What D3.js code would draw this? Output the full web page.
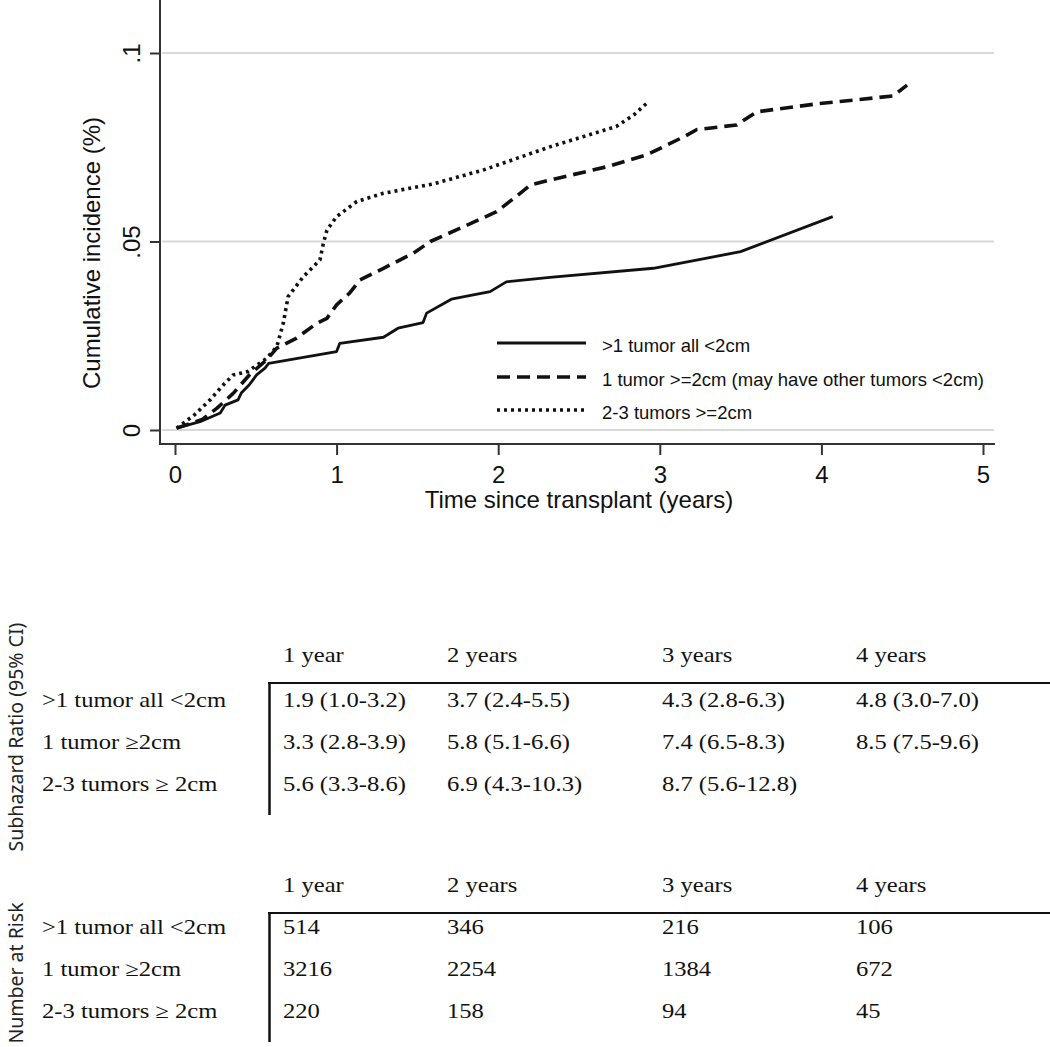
<!DOCTYPE html>
<html><head><meta charset="utf-8">
<script src="https://cdn.jsdelivr.net/npm/d3@7"></script>
<style>body{margin:0;background:#fff}</style>
</head><body>
<svg id="c" width="1050" height="1047"></svg>
<script>
// ---------- data ----------
const seriesNames = [">1 tumor all <2cm", "1 tumor >=2cm (may have other tumors <2cm)", "2-3 tumors >=2cm"];

const timeSolid = [0.01,0.155,0.28,0.31,0.39,0.41,0.46,0.505,0.557,0.58,1.0,1.02,1.29,1.38,1.535,1.557,1.71,1.95,2.05,2.32,2.96,3.5,4.07];
const valSolid  = [0.0005,0.0022,0.0045,0.0066,0.008,0.0098,0.012,0.0146,0.0164,0.0177,0.0208,0.023,0.0246,0.027,0.0285,0.031,0.0347,0.0367,0.0393,0.0405,0.0429,0.0473,0.0566];

const timeDash = [0.01,0.165,0.26,0.36,0.46,0.567,0.63,0.75,0.877,0.94,1.0,1.08,1.145,1.29,1.475,1.58,1.785,1.99,2.11,2.2,2.32,2.67,2.92,3.15,3.23,3.475,3.6,3.97,4.445,4.53];
const valDash  = [0.0005,0.0027,0.0058,0.0097,0.0146,0.0186,0.0217,0.0243,0.0283,0.0296,0.0332,0.0363,0.0398,0.0429,0.0469,0.05,0.0539,0.0579,0.0619,0.065,0.0663,0.0698,0.073,0.0778,0.0797,0.0809,0.0844,0.0865,0.0886,0.0915];

const timeDot = [0.01,0.12,0.217,0.3,0.36,0.45,0.567,0.63,0.67,0.70,0.795,0.897,0.918,0.94,1.0,1.125,1.29,1.6,1.91,2.32,2.73,2.84,2.93];
const valDot  = [0.0005,0.004,0.008,0.012,0.0146,0.0155,0.019,0.0221,0.0283,0.0354,0.0407,0.0451,0.0495,0.053,0.0566,0.0606,0.0628,0.0653,0.069,0.0751,0.0805,0.0836,0.0871];

const xTicks = [0,1,2,3,4,5];
const yTicks = [0,0.05,0.1];
const yTickLabels = ["0",".05",".1"];

const tableCols = ["1 year","2 years","3 years","4 years"];
const tableRows = [">1 tumor all <2cm","1 tumor \u22652cm","2-3 tumors \u2265 2cm"];
const shrRow1 = ["1.9 (1.0-3.2)","3.7 (2.4-5.5)","4.3 (2.8-6.3)","4.8 (3.0-7.0)"];
const shrRow2 = ["3.3 (2.8-3.9)","5.8 (5.1-6.6)","7.4 (6.5-8.3)","8.5 (7.5-9.6)"];
const shrRow3 = ["5.6 (3.3-8.6)","6.9 (4.3-10.3)","8.7 (5.6-12.8)",""];
const riskRow1 = [514,346,216,106];
const riskRow2 = [3216,2254,1384,672];
const riskRow3 = [220,158,94,45];

// ---------- chart ----------
const svg = d3.select("#c");
const sans = "'Liberation Sans', Arial, Helvetica, sans-serif";
const serif = "'Liberation Serif', 'Times New Roman', serif";
const ink = "#111", axisCol = "#333", gridCol = "#d9d9d9";

const x = d3.scaleLinear().domain([0,5]).range([175,983]);
const y = d3.scaleLinear().domain([0,0.1]).range([430,53]);

// gridlines
svg.append("g").selectAll("line").data(yTicks).join("line")
  .attr("x1",162).attr("x2",994)
  .attr("y1",d=>y(d)).attr("y2",d=>y(d))
  .attr("stroke",gridCol).attr("stroke-width",2);

// axis lines
svg.append("line").attr("x1",160).attr("x2",160).attr("y1",0).attr("y2",444)
  .attr("stroke",axisCol).attr("stroke-width",2);
svg.append("line").attr("x1",159).attr("x2",995).attr("y1",444).attr("y2",444)
  .attr("stroke",axisCol).attr("stroke-width",2);

// x axis
const gx = svg.append("g").attr("transform","translate(0,444)")
  .call(d3.axisBottom(x).tickValues(xTicks).tickFormat(d3.format("d")).tickSize(11));
gx.select(".domain").remove();
gx.selectAll(".tick line").attr("stroke",axisCol).attr("stroke-width",2);
gx.selectAll(".tick text").attr("y",39).attr("dy",null)
  .attr("font-family",sans).attr("font-size",24).attr("fill",ink);

// y axis
const gy = svg.append("g").attr("transform","translate(160,0)")
  .call(d3.axisLeft(y).tickValues(yTicks).tickFormat((d,i)=>yTickLabels[i]).tickSize(10));
gy.select(".domain").remove();
gy.selectAll(".tick line").attr("stroke",axisCol).attr("stroke-width",2);
gy.selectAll(".tick text").attr("x",null).attr("dy",null)
  .attr("transform","translate(-20,0) rotate(-90)")
  .attr("text-anchor","middle")
  .attr("font-family",sans).attr("font-size",24).attr("fill",ink);

// axis titles
svg.append("text").attr("transform","translate(100,253) rotate(-90)")
  .attr("text-anchor","middle").attr("font-family",sans).attr("font-size",24).attr("fill",ink)
  .text("Cumulative incidence (%)");
svg.append("text").attr("x",579).attr("y",508)
  .attr("text-anchor","middle").attr("font-family",sans).attr("font-size",24).attr("fill",ink)
  .text("Time since transplant (years)");

// curves
const styles = [
  {dash:null, w:2.8},
  {dash:"13,7", w:3.6},
  {dash:"3,4", w:3.6}
];
const series = [
  d3.zip(timeSolid,valSolid),
  d3.zip(timeDash,valDash),
  d3.zip(timeDot,valDot)
];
const line = d3.line().x(d=>x(d[0])).y(d=>y(d[1]));
series.forEach((s,i)=>{
  svg.append("path").attr("d",line(s)).attr("fill","none")
    .attr("stroke",ink).attr("stroke-width",styles[i].w)
    .attr("stroke-dasharray",styles[i].dash)
    .attr("stroke-linejoin","round");
});

// legend
const legY = [343,377,410];
seriesNames.forEach((n,i)=>{
  svg.append("line").attr("x1",497).attr("x2",586).attr("y1",legY[i]).attr("y2",legY[i])
    .attr("stroke",ink).attr("stroke-width",styles[i].w).attr("stroke-dasharray",styles[i].dash);
  svg.append("text").attr("x",602).attr("y",legY[i]+8.5)
    .attr("font-family",sans).attr("font-size",18.5).attr("fill",ink).text(n);
});

// ---------- tables ----------
const colX = [283,447,662,856];
function stxt(xp, yp, t){
  svg.append("text").attr("transform",`translate(${xp},${yp}) scale(1.2,1)`)
    .attr("font-family",serif).attr("font-size",20.5).attr("fill",ink).text(t);
}
function table(headY, lineY, rowYs, rows){
  tableCols.forEach((c,j)=>stxt(colX[j], headY, c));
  svg.append("line").attr("x1",268).attr("x2",1050).attr("y1",lineY).attr("y2",lineY)
    .attr("stroke",ink).attr("stroke-width",2);
  svg.append("line").attr("x1",269.5).attr("x2",269.5).attr("y1",lineY-1).attr("y2",rowYs[2]+24)
    .attr("stroke",ink).attr("stroke-width",2.5);
  tableRows.forEach((r,i)=>{
    stxt(42, rowYs[i], r);
    rows[i].forEach((v,j)=>{ if(v!=="") stxt(colX[j], rowYs[i], String(v)); });
  });
}
table(662, 683, [707,749,791], [shrRow1,shrRow2,shrRow3]);
table(892, 913, [934,976,1018], [riskRow1,riskRow2,riskRow3]);

const sideFont = "'Noto Sans', 'Open Sans', sans-serif";
svg.append("text").attr("transform","translate(23,737) rotate(-90)")
  .attr("text-anchor","middle").attr("font-family",sideFont).attr("font-size",19.5).attr("fill","#222")
  .text("Subhazard Ratio (95% CI)");
svg.append("text").attr("transform","translate(23,973) rotate(-90)")
  .attr("text-anchor","middle").attr("font-family",sideFont).attr("font-size",19.5).attr("fill","#222")
  .text("Number at Risk");
</script>
</body></html>
